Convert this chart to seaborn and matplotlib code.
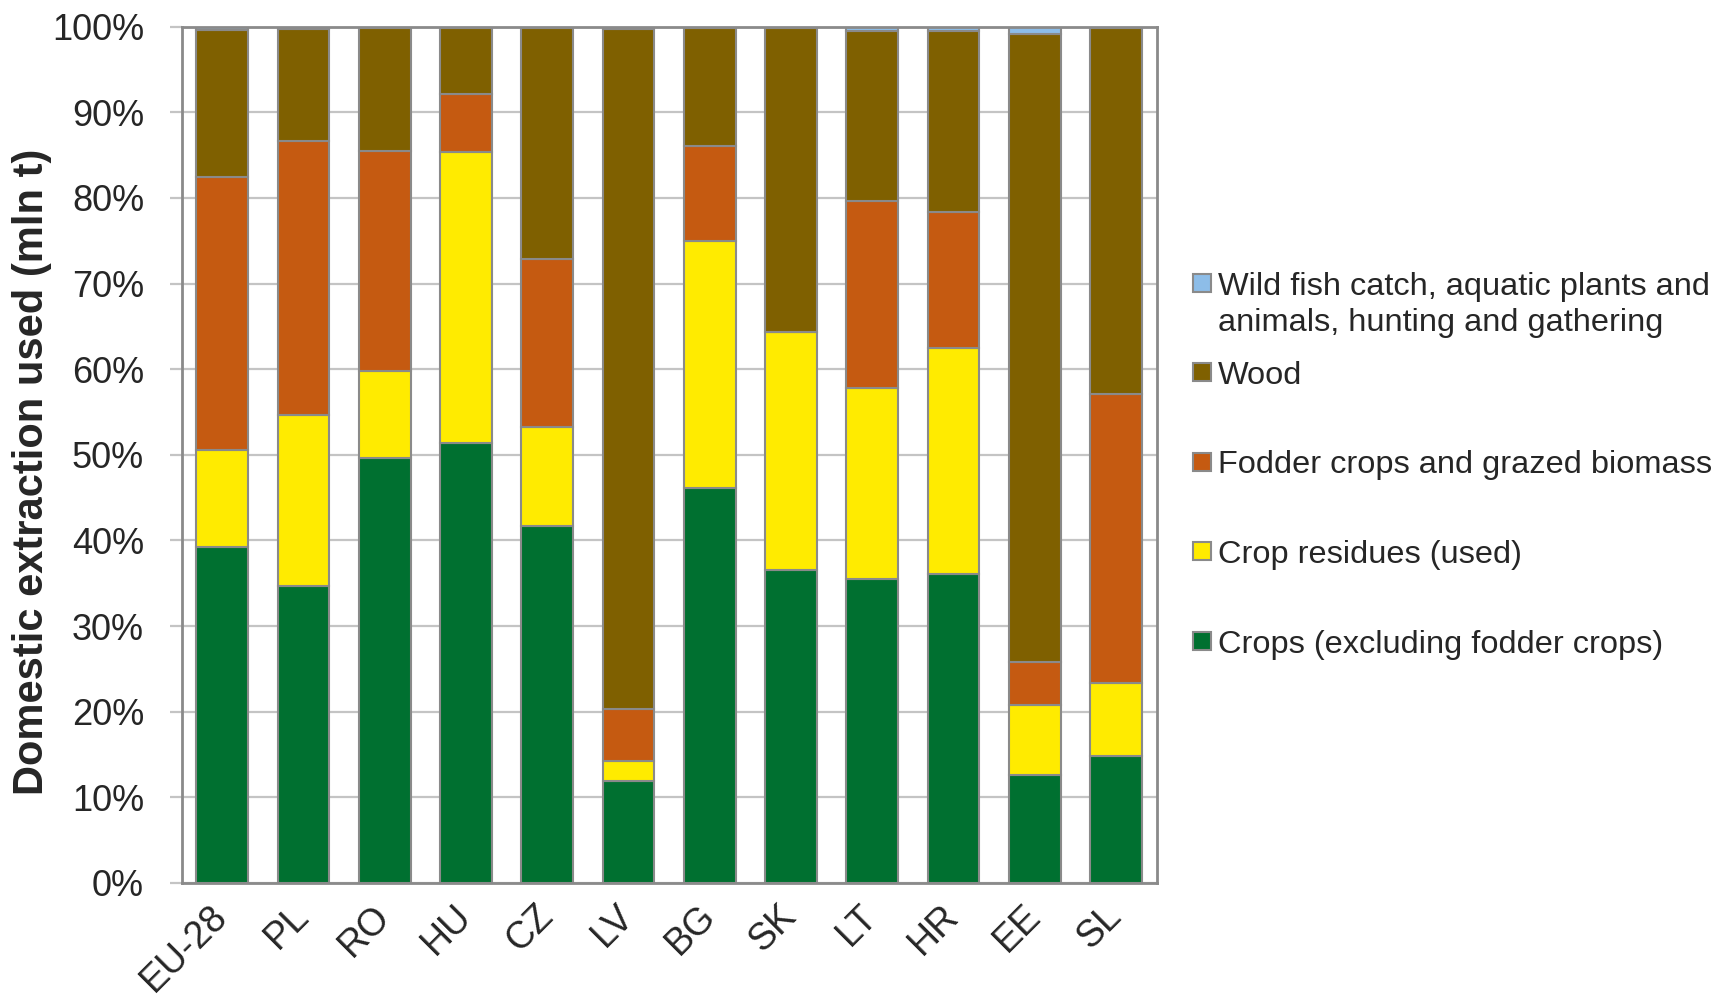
import pandas as pd
import matplotlib
matplotlib.use("Agg")
import matplotlib.pyplot as plt
from matplotlib.patches import Rectangle
from matplotlib.ticker import FuncFormatter
import seaborn as sns

# Share of domestic extraction used by material group, %
countries = ["EU-28", "PL", "RO", "HU", "CZ", "LV", "BG", "SK", "LT", "HR", "EE", "SL"]
crops = [39.2, 34.7, 49.6, 51.4, 41.7, 11.9, 46.1, 36.5, 35.5, 36.1, 12.6, 14.8]
residues = [11.4, 20.0, 10.2, 34.0, 11.6, 2.3, 28.9, 27.8, 22.3, 26.4, 8.2, 8.6]
fodder = [31.9, 31.9, 25.7, 6.8, 19.6, 6.1, 11.1, 0.0, 21.8, 15.9, 5.0, 33.7]
wood = [17.1, 13.1, 14.4, 7.7, 26.9, 79.4, 13.8, 35.6, 19.9, 21.1, 73.3, 42.8]
wild = [0.4, 0.3, 0.1, 0.1, 0.2, 0.3, 0.1, 0.1, 0.5, 0.5, 0.9, 0.1]

series_names = [
    "Crops (excluding fodder crops)",
    "Crop residues (used)",
    "Fodder crops and grazed biomass",
    "Wood",
    "Wild fish catch, aquatic plants and\nanimals, hunting and gathering",
]
series_values = [crops, residues, fodder, wood, wild]
colors = ["#007030", "#ffeb00", "#c55a11", "#7f6000", "#8dbde8"]
edge = "#8a8a8a"

rows = []
for name, vals in zip(series_names, series_values):
    for c, v in zip(countries, vals):
        rows.append({"country": c, "series": name, "value": v})
df = pd.DataFrame(rows)

sns.set_theme(style="white")
plt.rcParams["font.family"] = ["Liberation Sans", "DejaVu Sans"]

fig = plt.figure(figsize=(17.15, 10.05), dpi=100)
ax = fig.add_axes([0.1059, 0.1214, 0.5685, 0.852])

# seaborn stacks the first hue level on top, so pass them reversed
sns.histplot(
    data=df, x="country", weights="value", hue="series",
    hue_order=series_names[::-1], palette=colors[::-1],
    multiple="stack", discrete=True, shrink=0.635,
    alpha=1, edgecolor=edge, linewidth=1.5, legend=False, ax=ax,
)

ax.set_xlim(-0.5, len(countries) - 0.5)
ax.set_ylim(0, 100)
ax.set_yticks(range(0, 101, 10))
ax.yaxis.set_major_formatter(FuncFormatter(lambda v, p: f"{v:.0f}%"))
ax.grid(axis="y", color="#c4c4c4", linewidth=1.6)
ax.set_axisbelow(True)
for s in ax.spines.values():
    s.set_color(edge)
    s.set_linewidth(2)

ax.tick_params(axis="y", left=True, length=9, width=1.6, color="#c4c4c4",
               labelsize=26, pad=18)
ax.tick_params(axis="x", bottom=False, length=0, labelsize=27, pad=20)
plt.setp(ax.get_xticklabels(), rotation=45, ha="right", va="center",
         rotation_mode="anchor")

ax.set_xlabel("")
ax.set_ylabel("Domestic extraction used (mln t)", fontsize=30, fontweight="bold")
ax.yaxis.set_label_coords(-0.133, 0.48)

# legend beside the plot: top entry is the last stacked series
W, H = fig.get_size_inches() * fig.dpi
legend_y = [283, 372, 462, 551, 641]
line_gap = 36
for i, (name, col) in enumerate(zip(series_names[::-1], colors[::-1])):
    yc = 1 - legend_y[i] / H
    fig.patches.append(Rectangle((1193 / W, yc - 9 / H), 18 / W, 18 / H,
                                 transform=fig.transFigure, facecolor=col,
                                 edgecolor=edge, linewidth=1.5))
    for k, line in enumerate(name.split("\n")):
        fig.text(1218 / W, yc - k * line_gap / H, line, fontsize=23.4,
                 va="center_baseline", ha="left")

fig.savefig("out.png", dpi=100)
